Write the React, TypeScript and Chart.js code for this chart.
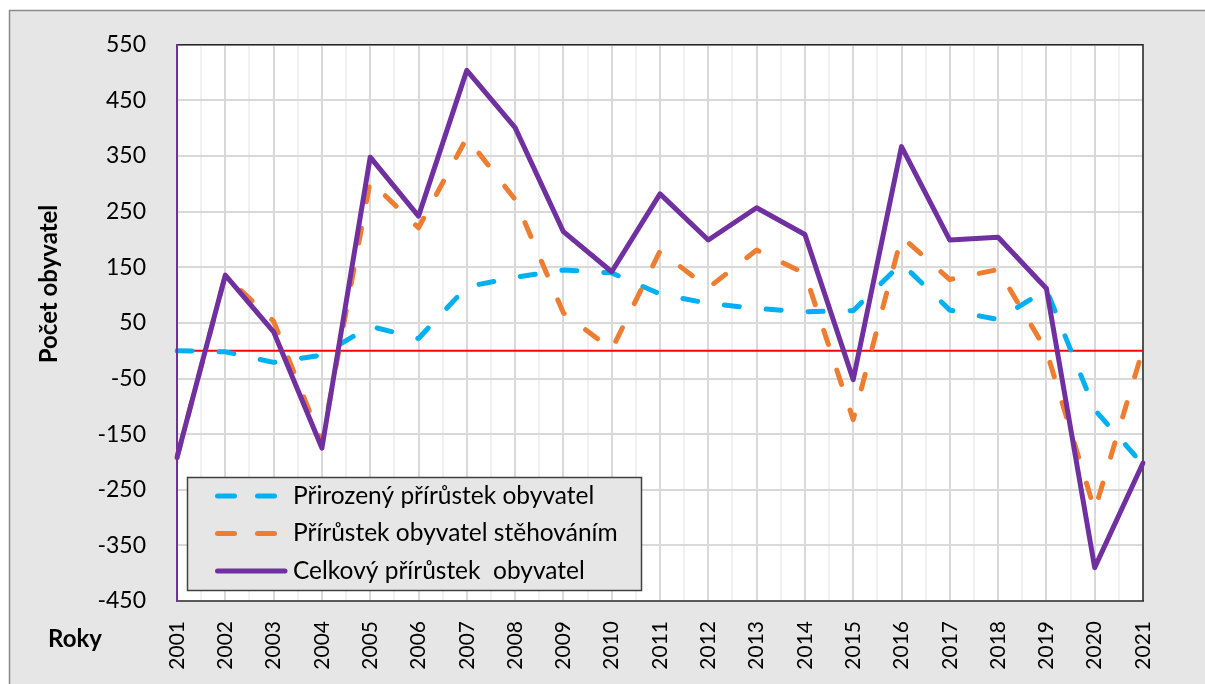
import { useEffect, useRef } from 'react';
import { Chart, registerables } from 'chart.js';

Chart.register(...registerables);

const years = ['2001', '2002', '2003', '2004', '2005', '2006', '2007', '2008', '2009', '2010', '2011', '2012', '2013', '2014', '2015', '2016', '2017', '2018', '2019', '2020', '2021'];
const naturalGrowth = [0, -2, -21, -8, 44, 22, 115, 132, 145, 140, 102, 85, 76, 70, 72, 157, 73, 56, 110, -106, -205];
const migrationGrowth = [-192, 135, 53, -165, 305, 221, 383, 272, 68, 2, 179, 113, 181, 139, -124, 205, 128, 146, 0, -287, 3];
const totalGrowth = [-192, 136, 34, -175, 348, 242, 504, 401, 214, 142, 282, 199, 257, 209, -52, 367, 199, 204, 112, -390, -202];

const seriesLabels = ['Přirozený přírůstek obyvatel', 'Přírůstek obyvatel stěhováním', 'Celkový přírůstek  obyvatel'];
const seriesColors = ['#00b0f0', '#ed7d31', '#7030a0'];
const yMin = -450;
const yMax = 550;
const yStep = 100;
const yTitle = 'Počet obyvatel';
const xTitle = 'Roky';

const FONT = 'Lato, "Open Sans", sans-serif';

const decor = {
  id: 'decor',
  beforeDraw(chart: any) {
    const { ctx, chartArea: a, width, height } = chart;
    ctx.save();
    ctx.fillStyle = '#ffffff';
    ctx.fillRect(0, 0, width, height);
    ctx.fillStyle = '#e7e6e6';
    ctx.fillRect(9, 10, width, height);
    ctx.strokeStyle = '#8a8a8a';
    ctx.lineWidth = 1.5;
    ctx.beginPath();
    ctx.moveTo(9.5, height);
    ctx.lineTo(9.5, 10.5);
    ctx.lineTo(width, 10.5);
    ctx.stroke();
    ctx.fillStyle = '#ffffff';
    ctx.fillRect(a.left, a.top, a.right - a.left, a.bottom - a.top);
    // minor vertical gridlines midway between categories
    const x = chart.scales.x;
    ctx.strokeStyle = '#f0f0f0';
    ctx.lineWidth = 2;
    for (let i = 0; i < years.length - 1; i++) {
      const px = Math.round(x.getPixelForValue(i + 0.5));
      ctx.beginPath();
      ctx.moveTo(px, a.top);
      ctx.lineTo(px, a.bottom);
      ctx.stroke();
    }
    ctx.restore();
  },
  beforeDatasetsDraw(chart: any) {
    const { ctx, chartArea: a } = chart;
    const y = chart.scales.y;
    ctx.save();
    ctx.strokeStyle = '#262626';
    ctx.lineWidth = 1.5;
    ctx.beginPath();
    ctx.moveTo(a.left, a.top);
    ctx.lineTo(a.right, a.top);
    ctx.lineTo(a.right, a.bottom);
    ctx.stroke();
    const y0 = y.getPixelForValue(0);
    ctx.strokeStyle = '#ff0000';
    ctx.lineWidth = 2;
    ctx.beginPath();
    ctx.moveTo(a.left, y0);
    ctx.lineTo(a.right, y0);
    ctx.stroke();
    ctx.restore();
  },
  afterDraw(chart: any) {
    const { ctx } = chart;
    ctx.save();
    // axis titles
    ctx.fillStyle = '#000000';
    ctx.font = `bold 24px ${FONT}`;
    ctx.textAlign = 'center';
    ctx.textBaseline = 'middle';
    ctx.save();
    ctx.translate(49, 284);
    ctx.rotate(-Math.PI / 2);
    ctx.fillText(yTitle, 0, 0);
    ctx.restore();
    ctx.font = `bold 24px ${FONT}`;
    ctx.fillText(xTitle, 75, 639);

    // legend
    const bx = 187, by = 477, bw = 454, bh = 113;
    ctx.fillStyle = '#e7e6e6';
    ctx.fillRect(bx, by, bw, bh);
    ctx.strokeStyle = '#404040';
    ctx.lineWidth = 1.5;
    ctx.strokeRect(bx + 0.5, by + 0.5, bw, bh);
    chart.data.datasets.forEach((ds: any, i: number) => {
      const cy = 496 + i * 37.5;
      const dashed = ds.borderDash && ds.borderDash.length;
      ctx.strokeStyle = ds.borderColor;
      ctx.lineWidth = 5;
      ctx.lineCap = 'round';
      ctx.setLineDash(dashed ? [17, 23] : []);
      ctx.beginPath();
      ctx.moveTo(217.5, cy);
      ctx.lineTo(dashed ? 276 : 285, cy);
      ctx.stroke();
      ctx.setLineDash([]);
      ctx.fillStyle = '#000000';
      ctx.font = `24.5px ${FONT}`;
      ctx.textAlign = 'left';
      ctx.textBaseline = 'middle';
      ctx.fillText(ds.label, 293, cy);
    });
    ctx.restore();
  },
};

export default function App() {
  const ref = useRef<HTMLCanvasElement>(null);
  useEffect(() => {
    const dash = [15, 27];
    const chart = new Chart(ref.current as HTMLCanvasElement, {
      type: 'line',
      data: {
        labels: years,
        datasets: [
          { label: seriesLabels[0], data: naturalGrowth, borderColor: seriesColors[0], backgroundColor: seriesColors[0], borderWidth: 5, borderDash: dash, borderCapStyle: 'round', borderJoinStyle: 'round', pointRadius: 0, tension: 0, order: 3 },
          { label: seriesLabels[1], data: migrationGrowth, borderColor: seriesColors[1], backgroundColor: seriesColors[1], borderWidth: 5, borderDash: dash, borderCapStyle: 'round', borderJoinStyle: 'round', pointRadius: 0, tension: 0, order: 2 },
          { label: seriesLabels[2], data: totalGrowth, borderColor: seriesColors[2], backgroundColor: seriesColors[2], borderWidth: 5, borderDash: [], borderCapStyle: 'round', borderJoinStyle: 'round', pointRadius: 0, tension: 0, order: 1 },
        ],
      },
      options: {
        responsive: false,
        animation: false,
        devicePixelRatio: 1,
        layout: { padding: { top: 44, right: 62, left: 0, bottom: 0 } },
        plugins: { legend: { display: false }, tooltip: { enabled: false } },
        scales: {
          x: {
            type: 'category',
            offset: false,
            afterFit: (s: any) => { s.height = 83; },
            grid: { color: '#d9d9d9', lineWidth: 2, drawTicks: false },
            border: { display: true, color: '#595959', width: 2 },
            ticks: { color: '#000000', font: { family: FONT, size: 21 }, minRotation: 90, maxRotation: 90, padding: 20, autoSkip: false },
          },
          y: {
            type: 'linear',
            min: yMin,
            max: yMax,
            afterFit: (s: any) => { s.width = 177; },
            grid: { color: '#d9d9d9', lineWidth: 2, drawTicks: false },
            border: { display: true, color: '#7030a0', width: 2, z: 1 },
            ticks: { stepSize: yStep, color: '#000000', font: { family: FONT, size: 23 }, padding: 31 },
          },
        },
      },
      plugins: [decor],
    } as any);
    return () => chart.destroy();
  }, []);
  return (
    <canvas
      ref={ref}
      width={1205}
      height={684}
      style={{ position: 'fixed', left: 0, top: 0, width: 1205, height: 684 }}
    />
  );
}
